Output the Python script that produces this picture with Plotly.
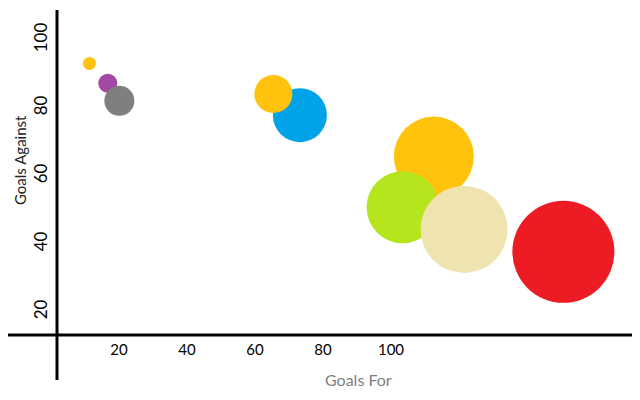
import plotly.graph_objects as go

# Bubble data
goals_for = [11.3, 16.7, 20.1, 73.2, 65.4, 112.6, 103.4, 121.5, 150.7]
goals_against = [93.1, 87.3, 82.1, 77.9, 84.1, 65.7, 50.8, 44.3, 37.7]
bubble_size = [13, 19, 30, 54, 38, 80, 72, 87, 102]
bubble_colors = ['#FFC30E', '#A349A4', '#7F7F7F', '#00A2E8', '#FFC30E',
                 '#FFC30E', '#B5E61D', '#EFE4B0', '#ED1C24']

x_ticks = [20, 40, 60, 80, 100]
y_ticks = [20, 40, 60, 80, 100]

# page has an 8px body margin, plot area is laid out to allow for it
PL, PW, PH = 49, 591, 327

fig = go.Figure()
fig.add_trace(go.Scatter(
    x=goals_for,
    y=goals_against,
    mode='markers',
    marker=dict(size=bubble_size, sizemode='diameter', color=bubble_colors,
                opacity=1, line=dict(width=0)),
    cliponaxis=False,
    hoverinfo='x+y',
))

# Hand drawn style axes
fig.add_shape(type='line', xref='paper', yref='paper',
              x0=0, x1=0, y0=(PH - 372) / PH, y1=(PH - 2) / PH,
              line=dict(color='black', width=3))
fig.add_shape(type='line', xref='paper', yref='paper',
              x0=(-8 - PL) / PW, x1=1, y0=0, y1=0,
              line=dict(color='black', width=3))

fig.add_annotation(text='Goals For', xref='paper', yref='paper',
                   x=(350 - PL) / PW, y=(PH - 371) / PH, showarrow=False,
                   xanchor='center', yanchor='middle',
                   font=dict(family='Lato', size=16, color='#7f7f7f'))
fig.add_annotation(text='Goals Against', xref='paper', yref='paper',
                   x=(12 - PL) / PW, y=(PH - 152) / PH, showarrow=False,
                   xanchor='center', yanchor='middle', textangle=-90,
                   font=dict(family='Lato', size=15, color='#222222'))

fig.update_layout(
    width=640, height=400,
    margin=dict(l=PL, r=0, t=0, b=400 - PH, autoexpand=False),
    paper_bgcolor='white', plot_bgcolor='white',
    showlegend=False,
    font=dict(family='Lato', color='black'),
    xaxis=dict(range=[1.76, 175.59], tickvals=x_ticks, showgrid=False,
               zeroline=False, showline=False, ticks='', automargin=False,
               tickfont=dict(size=15), ticklabelstandoff=4),
    yaxis=dict(range=[13.24, 109.41], tickvals=y_ticks, showgrid=False,
               zeroline=False, showline=False, ticks='', tickangle=-90,
               automargin=False, tickfont=dict(size=17), ticklabelstandoff=6),
)

fig.write_html("out.html")
